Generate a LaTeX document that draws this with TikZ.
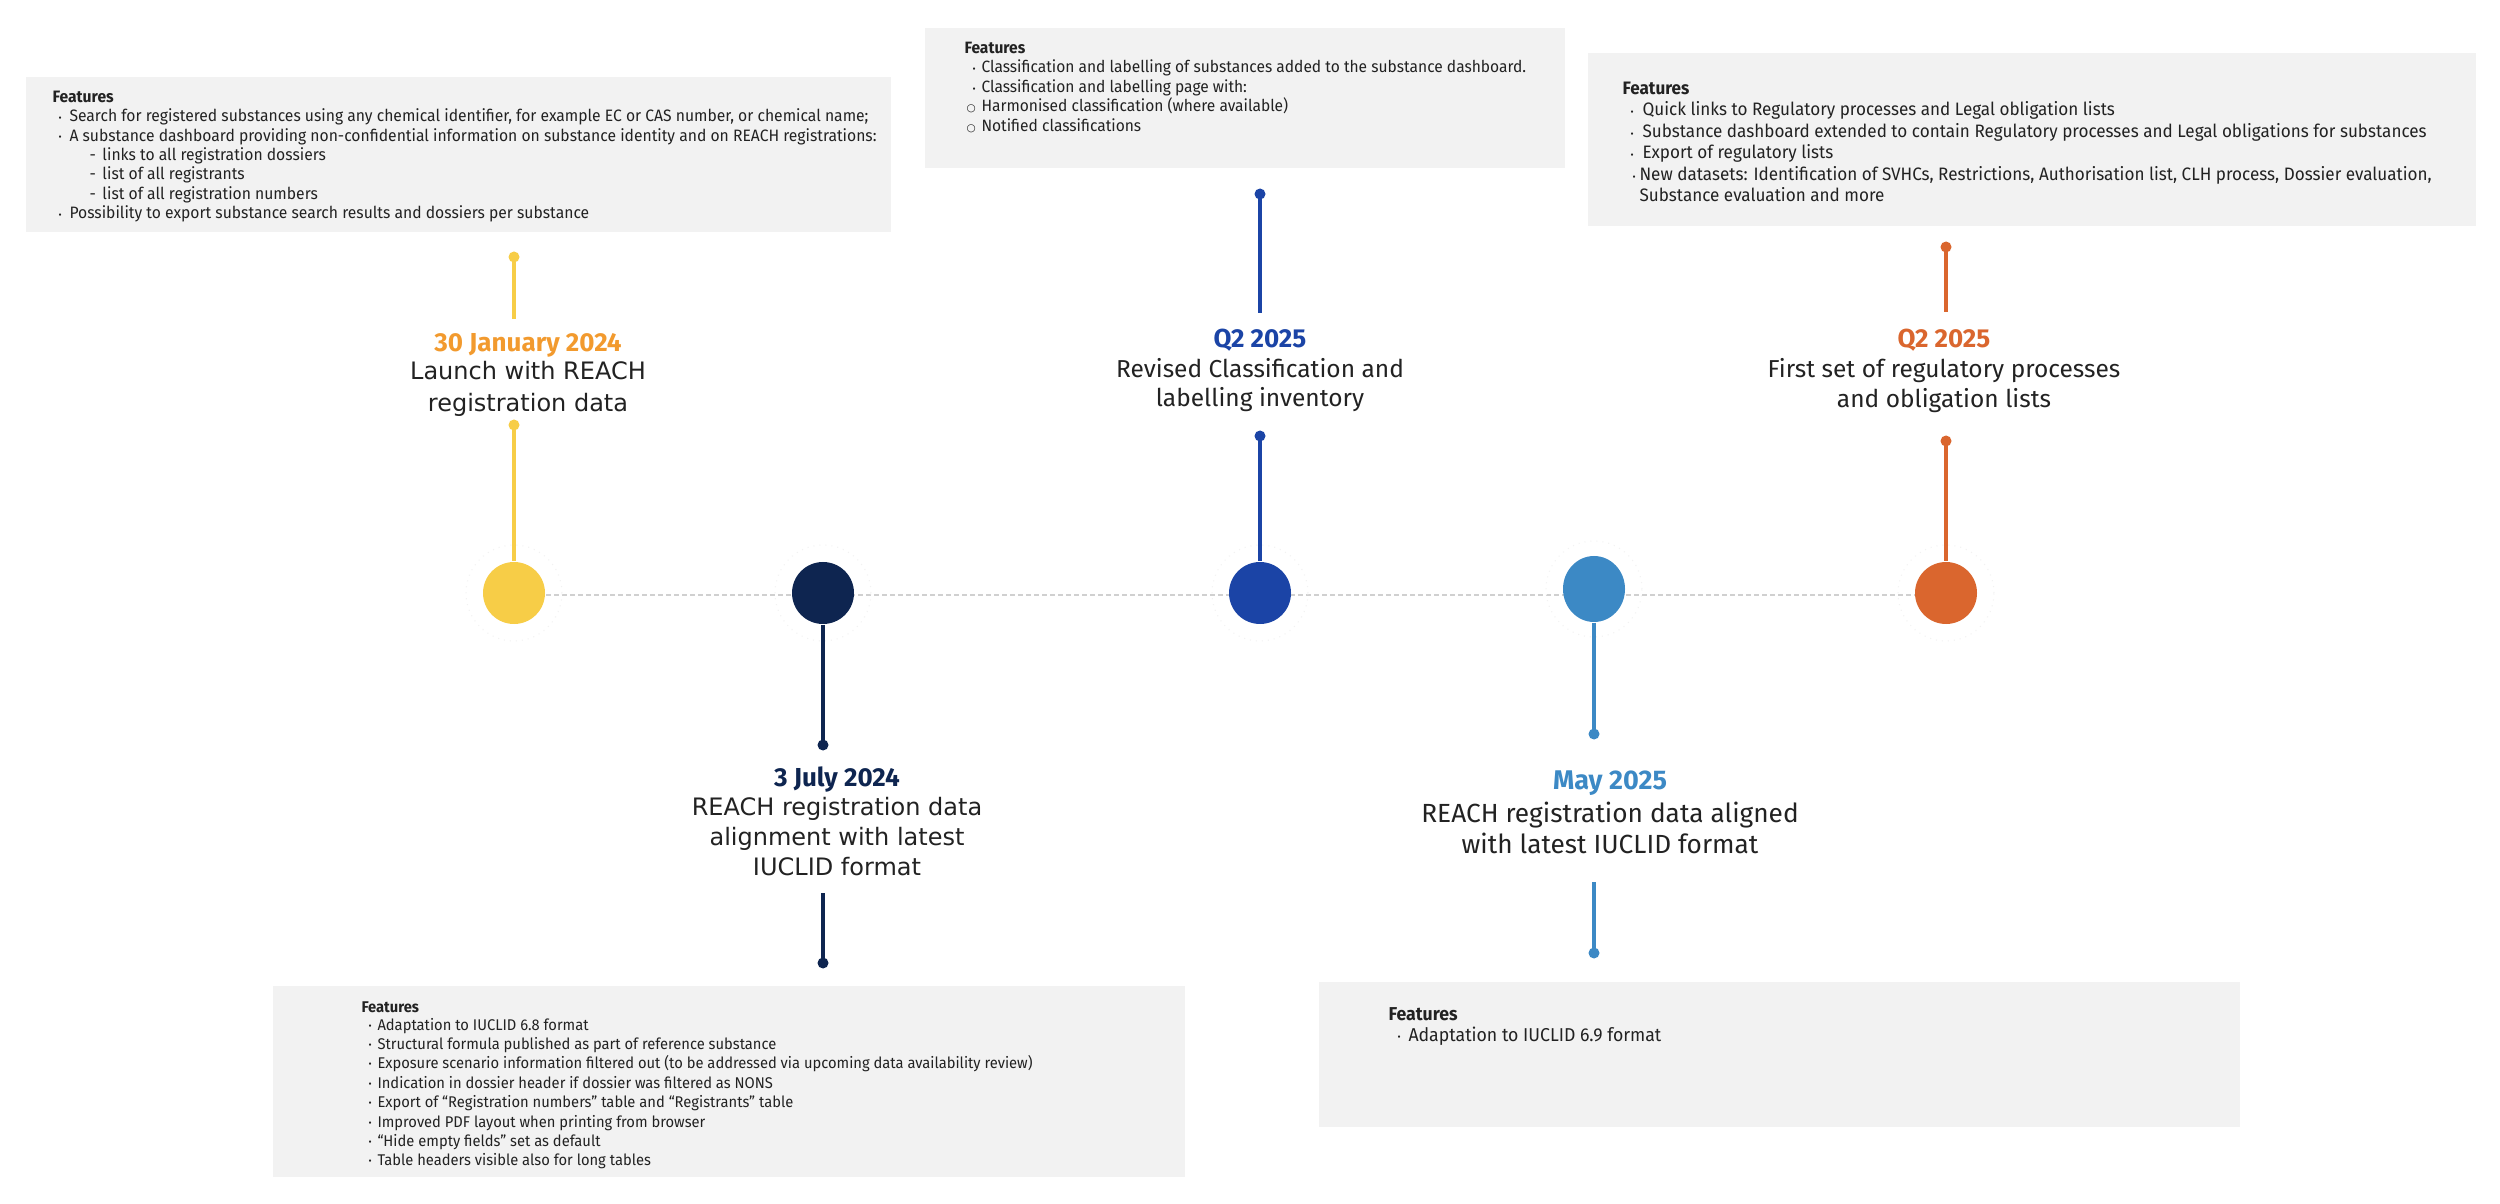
\documentclass[tikz,border=0pt]{standalone}
\usepackage{fontspec}
\usepackage{graphicx}
\usetikzlibrary{shapes.geometric}
\setmainfont{Fira Sans}
\newfontfamily\bxf[FakeStretch=0.95]{Fira Sans}
\newfontfamily\lbf{Fira Sans}
\newfontfamily\vdf{DejaVu Sans}
\definecolor{yel}{HTML}{F7CD47}
\definecolor{yeldate}{HTML}{F29A2E}
\definecolor{navy}{HTML}{0E2550}
\definecolor{blu}{HTML}{1B44A6}
\definecolor{lblu}{HTML}{3C89C5}
\definecolor{orng}{HTML}{DA662E}
\definecolor{boxgray}{HTML}{F2F2F2}
\definecolor{txt}{HTML}{222222}
\definecolor{dashc}{HTML}{D0D0D0}
\newcommand\bxa{\bxf\fontsize{6.6pt}{7.8pt}\selectfont}
\newcommand\bxb{\bxf\fontsize{6.55pt}{7.8pt}\selectfont}
\newcommand\bxc{\bxf\fontsize{7.2pt}{8.6pt}\selectfont}
\newcommand\bxd{\bxf\fontsize{6.2pt}{7.8pt}\selectfont}
\newcommand\bxe{\bxf\fontsize{7.45pt}{8.6pt}\selectfont}
\newcommand\bu[1]{\makebox[#1][l]{\raisebox{0.35pt}{\fontsize{4pt}{4pt}\selectfont •}}}
\newcommand\wbu[1]{\makebox[#1][l]{\raisebox{0.3pt}{\vdf\fontsize{4.2pt}{4.2pt}\selectfont ○}}}
\newcommand\dsh[1]{\makebox[#1][l]{-}}
\tikzset{
  bt/.style={anchor=base west, inner sep=0pt, text=txt},
  lbl/.style={anchor=base, inner sep=0pt, text=txt},
  datef/.style={anchor=base, inner sep=0pt, font=\lbf\bfseries\fontsize{10.4pt}{12pt}\selectfont},
  fira/.style={font=\lbf\fontsize{9.8pt}{12pt}\selectfont},
  firab/.style={font=\lbf\fontsize{10.5pt}{12pt}\selectfont},
  verd/.style={font=\vdf\fontsize{9.6pt}{12pt}\selectfont},
  bigc/.style={circle, minimum size=24.8pt, inner sep=0pt},
  dotn/.style={circle, minimum size=4.4pt, inner sep=0pt},
  ringc/.style={circle, minimum size=38.4pt, inner sep=0pt, draw=black!5, line width=0.4pt, dotted},
  stem/.style={line width=1.6pt},
  tline/.style={draw=dashc, line width=0.8pt, dash pattern=on 2pt off 1.2pt}
}
\begin{document}
\begin{tikzpicture}[x=0.4pt,y=-0.4pt]
\useasboundingbox (0,0) rectangle (2500,1204);
\fill[white] (0,0) rectangle (2500,1204);

% ---------- feature boxes ----------
\fill[boxgray] (26,77) rectangle (891,232);
\fill[boxgray] (925,28) rectangle (1565,168);
\fill[boxgray] (1588,53) rectangle (2476,226);
\fill[boxgray] (273,986) rectangle (1185,1177);
\fill[boxgray] (1319,982) rectangle (2240,1127);

% box 1
\node[bt, font=\bxa\bfseries] (b1h) at (52,103) {Features};
\node[bt, font=\bxa] (b1a) at (58,122) {\bu{4.4pt}Search for registered substances using any chemical identifier, for example EC or CAS number, or chemical name;};
\node[bt, font=\bxa] (b1b) at (58,141.5) {\bu{4.4pt}A substance dashboard providing non-confidential information on substance identity and on REACH registrations:};
\node[bt, font=\bxa] (b1c) at (89,161) {\dsh{5.2pt}links to all registration dossiers};
\node[bt, font=\bxa] (b1d) at (89,180) {\dsh{5.2pt}list of all registrants};
\node[bt, font=\bxa] (b1e) at (89,199.5) {\dsh{5.2pt}list of all registration numbers};
\node[bt, font=\bxa] (b1f) at (58,219) {\bu{4.4pt}Possibility to export substance search results and dossiers per substance};

% box 2
\node[bt, font=\bxb\bfseries] (b2h) at (964,54) {Features};
\node[bt, font=\bxb] (b2a) at (972,73) {\bu{3.6pt}Classification and labelling of substances added to the substance dashboard.};
\node[bt, font=\bxb] (b2b) at (972,93) {\bu{3.6pt}Classification and labelling page with:};
\node[bt, font=\bxb] (b2c) at (966,112) {\wbu{6pt}Harmonised classification (where available)};
\node[bt, font=\bxb] (b2d) at (966,132) {\wbu{6pt}Notified classifications};

% box 3
\node[bt, font=\bxc\bfseries] (b3h) at (1622,95) {Features};
\node[bt, font=\bxc] (b3a) at (1630,116) {\bu{4.8pt}Quick links to Regulatory processes and Legal obligation lists};
\node[bt, font=\bxc] (b3b) at (1630,138) {\bu{4.8pt}Substance dashboard extended to contain Regulatory processes and Legal obligations for substances};
\node[bt, font=\bxc] (b3c) at (1630,159) {\bu{4.8pt}Export of regulatory lists};
\node[bt, font=\bxc] (b3d) at (1632,181) {\bu{2.8pt}New datasets: Identification of SVHCs, Restrictions, Authorisation list, CLH process, Dossier evaluation,};
\node[bt, font=\bxc] (b3e) at (1639,202) {Substance evaluation and more};

% box 4
\node[bt, font=\bxd\bfseries] (b4h) at (361,1012) {Features};
\node[bt, font=\bxd] (b4a) at (368,1030) {\bu{3.6pt}Adaptation to IUCLID 6.8 format};
\node[bt, font=\bxd] (b4b) at (368,1049.4) {\bu{3.6pt}Structural formula published as part of reference substance};
\node[bt, font=\bxd] (b4c) at (368,1068.8) {\bu{3.6pt}Exposure scenario information filtered out (to be addressed via upcoming data availability review)};
\node[bt, font=\bxd] (b4d) at (368,1088.2) {\bu{3.6pt}Indication in dossier header if dossier was filtered as NONS};
\node[bt, font=\bxd] (b4e) at (368,1107.6) {\bu{3.6pt}Export of “Registration numbers” table and “Registrants” table};
\node[bt, font=\bxd] (b4f) at (368,1127) {\bu{3.6pt}Improved PDF layout when printing from browser};
\node[bt, font=\bxd] (b4g) at (368,1146.4) {\bu{3.6pt}“Hide empty fields” set as default};
\node[bt, font=\bxd] (b4i) at (368,1165.8) {\bu{3.6pt}Table headers visible also for long tables};

% box 5
\node[bt, font=\bxe\bfseries] (b5h) at (1388,1020) {Features};
\node[bt, font=\bxe] (b5a) at (1397,1041) {\bu{4.4pt}Adaptation to IUCLID 6.9 format};

% ---------- timeline ----------
\coordinate (tl1) at (514,595);
\coordinate (tl2) at (1946,595);
\draw[tline] (tl1) -- (tl2);

\node[ringc] (yr) at (514,593) {};
\node[ringc] (nr) at (823,593) {};
\node[ringc] (br) at (1260,593) {};
\node[ringc] (lr) at (1594,589) {};
\node[ringc] (orr) at (1946,593) {};

\node[bigc, fill=yel] (yc) at (514,593) {};
\node[bigc, fill=navy] (nc) at (823,593) {};
\node[bigc, fill=blu] (bc) at (1260,593) {};
\node[ellipse, minimum width=24.8pt, minimum height=26.4pt, inner sep=0pt, fill=lblu] (lc) at (1594,589) {};
\node[bigc, fill=orng] (oc) at (1946,593) {};

% yellow
\node[dotn, fill=yel] (yd1) at (514,257) {};
\coordinate (ye1) at (514,319);
\node[dotn, fill=yel] (yd2) at (514,425) {};
\draw[stem, yel] (yd1.center) -- (ye1);
\draw[stem, yel] (yd2.center) -- (yc);
\node[datef, text=yeldate] (yt) at (528,352) {30 January 2024};
\node[lbl, verd] (yl1) at (528,380) {Launch with REACH};
\node[lbl, verd] (yl2) at (528,412) {registration data};

% navy
\node[dotn, fill=navy] (nd1) at (823,745) {};
\coordinate (ns2) at (823,893);
\node[dotn, fill=navy] (nd2) at (823,963) {};
\draw[stem, navy] (nc) -- (nd1.center);
\draw[stem, navy] (ns2) -- (nd2.center);
\node[datef, text=navy] (nt) at (837,786) {3 July 2024};
\node[lbl, verd] (nl1) at (837,815) {REACH registration data};
\node[lbl, verd] (nl2) at (837,845) {alignment with latest};
\node[lbl, verd] (nl3) at (837,875) {IUCLID format};

% blue
\node[dotn, fill=blu] (bd1) at (1260,194) {};
\coordinate (be1) at (1260,313);
\node[dotn, fill=blu] (bd2) at (1260,436) {};
\draw[stem, blu] (bd1.center) -- (be1);
\draw[stem, blu] (bd2.center) -- (bc);
\node[datef, text=blu] (bt1) at (1260,348) {Q2 2025};
\node[lbl, fira] (bl1) at (1260,378) {Revised Classification and};
\node[lbl, fira] (bl2) at (1260,407) {labelling inventory};

% light blue
\node[dotn, fill=lblu] (ld1) at (1594,734) {};
\coordinate (ls2) at (1594,882);
\node[dotn, fill=lblu] (ld2) at (1594,953) {};
\draw[stem, lblu] (lc) -- (ld1.center);
\draw[stem, lblu] (ls2) -- (ld2.center);
\node[datef, text=lblu, font=\lbf\bfseries\fontsize{10.8pt}{12pt}\selectfont] (lt) at (1610,789) {May 2025};
\node[lbl, firab] (ll1) at (1610,822) {REACH registration data aligned};
\node[lbl, firab] (ll2) at (1610,853) {with latest IUCLID format};

% orange
\node[dotn, fill=orng] (od1) at (1946,247) {};
\coordinate (oe1) at (1946,312);
\node[dotn, fill=orng] (od2) at (1946,441) {};
\draw[stem, orng] (od1.center) -- (oe1);
\draw[stem, orng] (od2.center) -- (oc);
\node[datef, text=orng] (ot) at (1944,348) {Q2 2025};
\node[lbl, fira] (ol1) at (1944,378) {First set of regulatory processes};
\node[lbl, fira] (ol2) at (1944,408) {and obligation lists};
\end{tikzpicture}
\end{document}
